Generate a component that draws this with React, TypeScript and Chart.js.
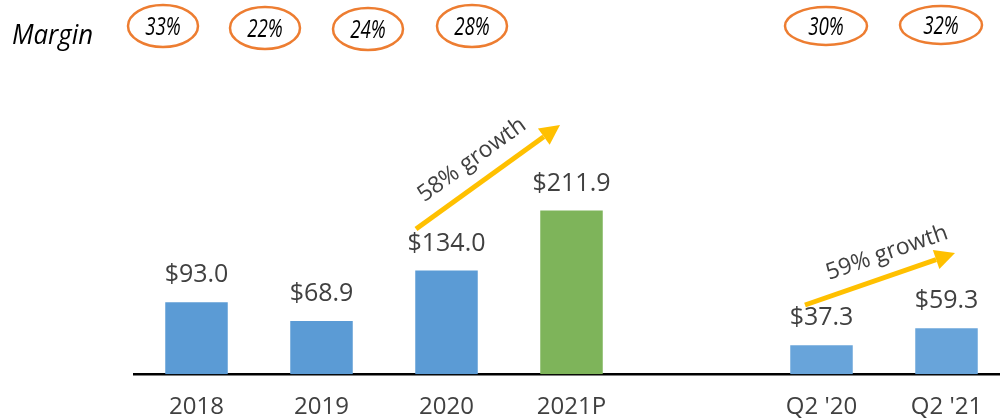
import React, { useEffect, useRef } from "react";
import { Chart, registerables } from "chart.js";

Chart.register(...registerables);

const categories = ["2018", "2019", "2020", "2021P", "", "Q2 '20", "Q2 '21"];
const revenue: (number | null)[] = [93.0, 68.9, 134.0, 211.9, null, 37.3, 59.3];
const valueLabels = ["$93.0", "$68.9", "$134.0", "$211.9", "", "$37.3", "$59.3"];
const barColors = ["#5B9BD5", "#5B9BD5", "#5B9BD5", "#7EB45A", "#5B9BD5", "#68A4DA", "#68A4DA"];
const marginLabels = ["33%", "22%", "24%", "28%", "30%", "32%"];
const growthLabels = ["58% growth", "59% growth"];

// layout of the annotations (canvas pixels)
const ellipseLayout = [
  { x: 163, y: 26, rx: 35, ry: 21 },
  { x: 265, y: 28, rx: 35, ry: 21 },
  { x: 368, y: 29, rx: 35, ry: 21 },
  { x: 472, y: 26, rx: 35, ry: 21 },
  { x: 826, y: 26, rx: 41, ry: 19 },
  { x: 941, y: 25, rx: 41, ry: 19 },
];
const arrowLayout = [
  { x1: 416, y1: 229, x2: 560, y2: 125, tx: 472, ty: 160 },
  { x1: 805, y1: 305, x2: 955, y2: 253, tx: 887, ty: 253 },
];

const FONT = "'Open Sans', 'Noto Sans', sans-serif";

const annotations = {
  id: "annotations",
  afterDraw(chart: any) {
    const ctx = chart.ctx;
    ctx.save();
    // Margin label
    ctx.fillStyle = "#000";
    ctx.font = `italic 28px ${FONT}`;
    ctx.textAlign = "left";
    ctx.textBaseline = "middle";
    ctx.save();
    ctx.translate(12, 36);
    ctx.scale(0.92, 1);
    ctx.fillText("Margin", 0, 0);
    ctx.restore();
    // ellipses
    ellipseLayout.forEach((e, i) => {
      ctx.beginPath();
      ctx.ellipse(e.x, e.y, e.rx, e.ry, 0, 0, Math.PI * 2);
      ctx.lineWidth = 2.5;
      ctx.strokeStyle = "#ED7D31";
      ctx.stroke();
      ctx.save();
      ctx.translate(e.x, e.y + 2);
      ctx.scale(0.75, 1);
      ctx.fillStyle = "#000";
      ctx.font = `italic 25px ${FONT}`;
      ctx.textAlign = "center";
      ctx.textBaseline = "middle";
      ctx.fillText(marginLabels[i], 0, 0);
      ctx.restore();
    });
    // value labels
    const meta = chart.getDatasetMeta(0);
    ctx.fillStyle = "#404040";
    ctx.font = `25px ${FONT}`;
    ctx.textAlign = "center";
    ctx.textBaseline = "middle";
    meta.data.forEach((el: any, i: number) => {
      if (revenue[i] == null) return;
      ctx.fillText(valueLabels[i], el.x, el.y - 27);
    });
    // arrows
    arrowLayout.forEach((a, i) => {
      const ang = Math.atan2(a.y2 - a.y1, a.x2 - a.x1);
      const head = 20;
      const hw = 10;
      const bx = a.x2 - head * Math.cos(ang);
      const by = a.y2 - head * Math.sin(ang);
      ctx.strokeStyle = "#FFC000";
      ctx.fillStyle = "#FFC000";
      ctx.lineWidth = 5;
      ctx.beginPath();
      ctx.moveTo(a.x1, a.y1);
      ctx.lineTo(bx, by);
      ctx.stroke();
      ctx.beginPath();
      ctx.moveTo(a.x2, a.y2);
      ctx.lineTo(bx + hw * Math.sin(ang), by - hw * Math.cos(ang));
      ctx.lineTo(bx - hw * Math.sin(ang), by + hw * Math.cos(ang));
      ctx.closePath();
      ctx.fill();
      ctx.save();
      ctx.translate(a.tx, a.ty);
      ctx.rotate(ang);
      ctx.fillStyle = "#404040";
      ctx.font = `23px ${FONT}`;
      ctx.textAlign = "center";
      ctx.textBaseline = "middle";
      ctx.fillText(growthLabels[i], 0, 0);
      ctx.restore();
    });
    ctx.restore();
  },
};

export default function App() {
  const ref = useRef<HTMLCanvasElement>(null);
  useEffect(() => {
    document.body.style.margin = "0";
    const chart = new Chart(ref.current!, {
      type: "bar",
      data: {
        labels: categories,
        datasets: [
          {
            data: revenue,
            backgroundColor: barColors,
            categoryPercentage: 1,
            barPercentage: 0.5,
          },
        ],
      },
      options: {
        animation: false,
        responsive: false,
        devicePixelRatio: 1,
        layout: { padding: { left: 134, right: 1, top: 65, bottom: -22 } },
        plugins: { legend: { display: false }, tooltip: { enabled: false } },
        scales: {
          x: {
            grid: { display: false, drawTicks: false },
            border: { display: true, color: "#000", width: 2.5 },
            ticks: { color: "#404040", font: { family: FONT, size: 24 }, padding: 19 },
          },
          y: { display: false, min: 0, max: 400 },
        },
      },
      plugins: [annotations],
    });
    return () => chart.destroy();
  }, []);
  return (
    <div style={{ width: 1000, height: 419, overflow: "hidden", position: "relative" }}>
      <canvas ref={ref} width={1010} height={419} style={{ display: "block" }} />
    </div>
  );
}
